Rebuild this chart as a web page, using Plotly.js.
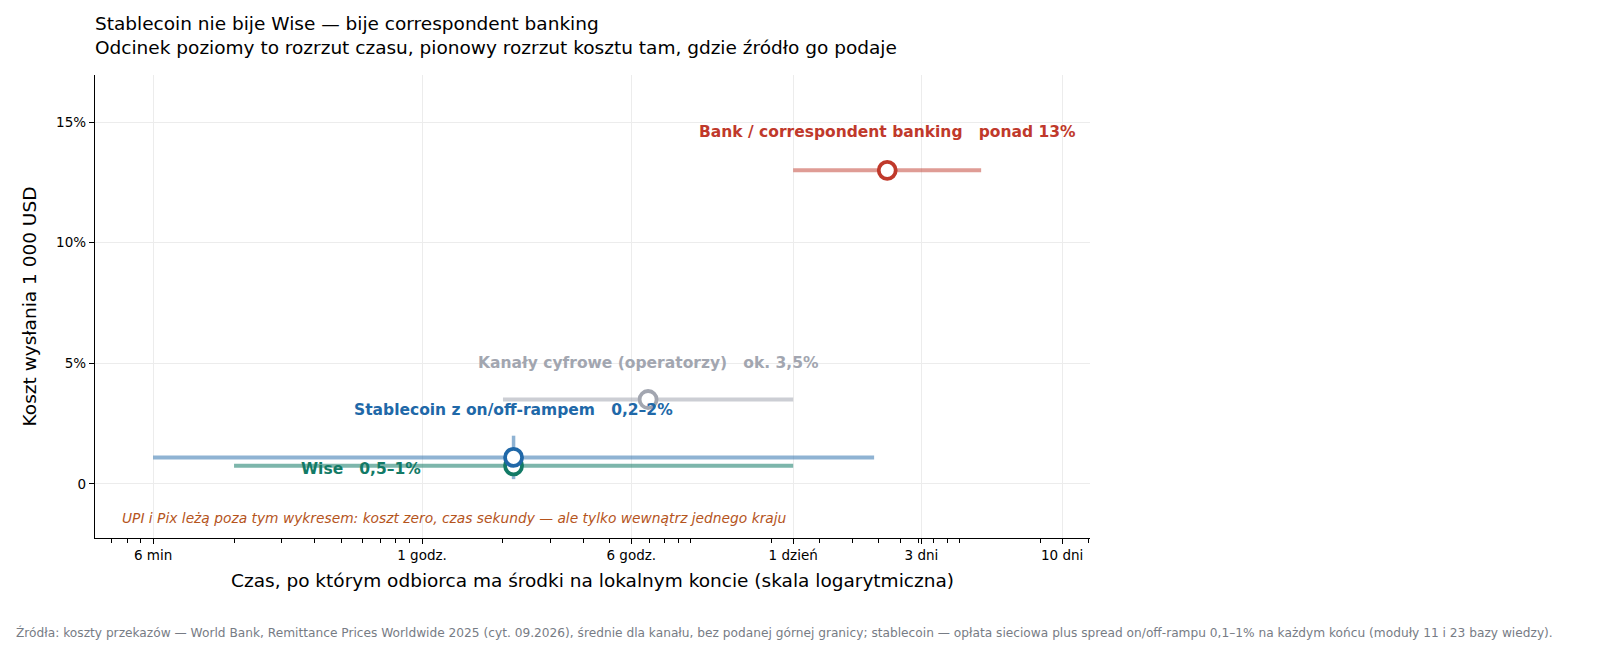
<!DOCTYPE html>
<html>
<head>
<meta charset="utf-8">
<script src="https://cdn.plot.ly/plotly-3.0.1.min.js"></script>
<style>
  body { margin: 0; background: #fff; }
  #chart { width: 1600px; height: 669px; }
</style>
</head>
<body>
<div id="chart"></div>
<script>
// channels (time in hours, cost in % of 1 000 USD)
const channels = ["Bank / correspondent banking", "Kanały cyfrowe (operatorzy)", "Wise", "Stablecoin z on/off-rampem"];
const costLabels = ["ponad 13%", "ok. 3,5%", "0,5–1%", "0,2–2%"];
const timeMin = [24, 2, 0.2, 0.1];
const timeMax = [120, 24, 24, 48];
const timeMid = [53.7, 6.93, 2.19, 2.19];
const cost = [13, 3.5, 0.75, 1.1];
const costMin = [null, null, 0.5, 0.2];
const costMax = [null, null, 1, 2];

const xTickVals = [0.1, 1, 6, 24, 72, 240];
const xTickText = ["6 min", "1 godz.", "6 godz.", "1 dzień", "3 dni", "10 dni"];
const yTickVals = [0, 5, 10, 15];
const yTickText = ["0", "5%", "10%", "15%"];

// styling
const colors = ["#c0392b", "#a2a6b0", "#127a66", "#2068a8"];
const lineColors = ["rgba(192,57,43,0.5)", "rgba(162,166,176,0.55)", "rgba(18,122,102,0.55)", "rgba(32,104,168,0.5)"];
const labelShift = [[0, 38], [0, 37], [-153, -3], [0, 47]];
const FONT = "DejaVu Sans, sans-serif";

const traces = [];
// horizontal time ranges and vertical cost ranges
channels.forEach((name, i) => {
  traces.push({
    x: [timeMin[i], timeMax[i]],
    y: [cost[i], cost[i]],
    mode: "lines",
    line: { color: lineColors[i], width: 4 },
    hoverinfo: "skip",
    showlegend: false,
  });
  if (costMin[i] !== null) {
    traces.push({
      x: [timeMid[i], timeMid[i]],
      y: [costMin[i], costMax[i]],
      mode: "lines",
      line: { color: lineColors[i], width: 3.5 },
      hoverinfo: "skip",
      showlegend: false,
    });
  }
});
// centre points
channels.forEach((name, i) => {
  traces.push({
    x: [timeMid[i]],
    y: [cost[i]],
    mode: "markers",
    name: name,
    marker: { size: 17, color: "#ffffff", line: { color: colors[i], width: 3.8 } },
    showlegend: false,
  });
});

const annotations = channels.map((name, i) => ({
  x: Math.log10(timeMid[i]),
  y: cost[i],
  xref: "x",
  yref: "y",
  text: name + "   " + costLabels[i],
  showarrow: false,
  xshift: labelShift[i][0],
  yshift: labelShift[i][1],
  font: { family: FONT, size: 15.5, color: colors[i], weight: "bold" },
}));

annotations.push({
  x: 0.025,
  xref: "paper",
  y: -1.41,
  yref: "y",
  xanchor: "left",
  text: "<i>UPI i Pix leżą poza tym wykresem: koszt zero, czas sekundy — ale tylko wewnątrz jednego kraju</i>",
  showarrow: false,
  font: { family: FONT, size: 13.8, color: "#b5541c" },
});

annotations.push({
  x: -81 / 995,
  xref: "paper",
  y: -0.205,
  yref: "paper",
  xanchor: "left",
  yanchor: "middle",
  text: "Źródła: koszty przekazów — World Bank, Remittance Prices Worldwide 2025 (cyt. 09.2026), średnie dla kanału, bez podanej górnej granicy; stablecoin — opłata sieciowa plus spread on/off-rampu 0,1–1% na każdym końcu (moduły 11 i 23 bazy wiedzy).",
  showarrow: false,
  font: { family: FONT, size: 12.2, color: "#777c85" },
});

const layout = {
  width: 1600,
  height: 669,
  margin: { l: 95, r: 510, t: 75, b: 131 },
  paper_bgcolor: "#ffffff",
  plot_bgcolor: "#ffffff",
  font: { family: FONT, color: "#000" },
  title: {
    text: "Stablecoin nie bije Wise — bije correspondent banking<br>Odcinek poziomy to rozrzut czasu, pionowy rozrzut kosztu tam, gdzie źródło go podaje",
    x: 0,
    xref: "paper",
    xanchor: "left",
    y: 0.955,
    yref: "container",
    yanchor: "top",
    font: { family: FONT, size: 18.5, color: "#000" },
  },
  xaxis: {
    type: "log",
    range: [-1.216, 2.484],
    tickmode: "array",
    tickvals: xTickVals,
    ticktext: xTickText,
    ticks: "outside",
    ticklen: 5,
    tickcolor: "#000",
    tickfont: { size: 13.5 },
    showline: true,
    linecolor: "#000",
    linewidth: 1.2,
    showgrid: true,
    gridcolor: "#ececec",
    zeroline: false,
    minor: { dtick: "D1", ticks: "outside", ticklen: 3.5, tickcolor: "#000", showgrid: false },
    title: { text: "Czas, po którym odbiorca ma środki na lokalnym koncie (skala logarytmiczna)", font: { size: 18.5 }, standoff: 11 },
  },
  yaxis: {
    range: [-2.24, 16.95],
    tickmode: "array",
    tickvals: yTickVals,
    ticktext: yTickText,
    ticks: "outside",
    ticklen: 5,
    tickcolor: "#000",
    tickfont: { size: 13.5 },
    showline: true,
    linecolor: "#000",
    linewidth: 1.2,
    showgrid: true,
    gridcolor: "#ececec",
    zeroline: false,
    title: { text: "Koszt wysłania 1 000 USD", font: { size: 18.5 }, standoff: 14 },
  },
  annotations: annotations,
};

Plotly.newPlot("chart", traces, layout, { displayModeBar: false, staticPlot: true });
</script>
</body>
</html>
